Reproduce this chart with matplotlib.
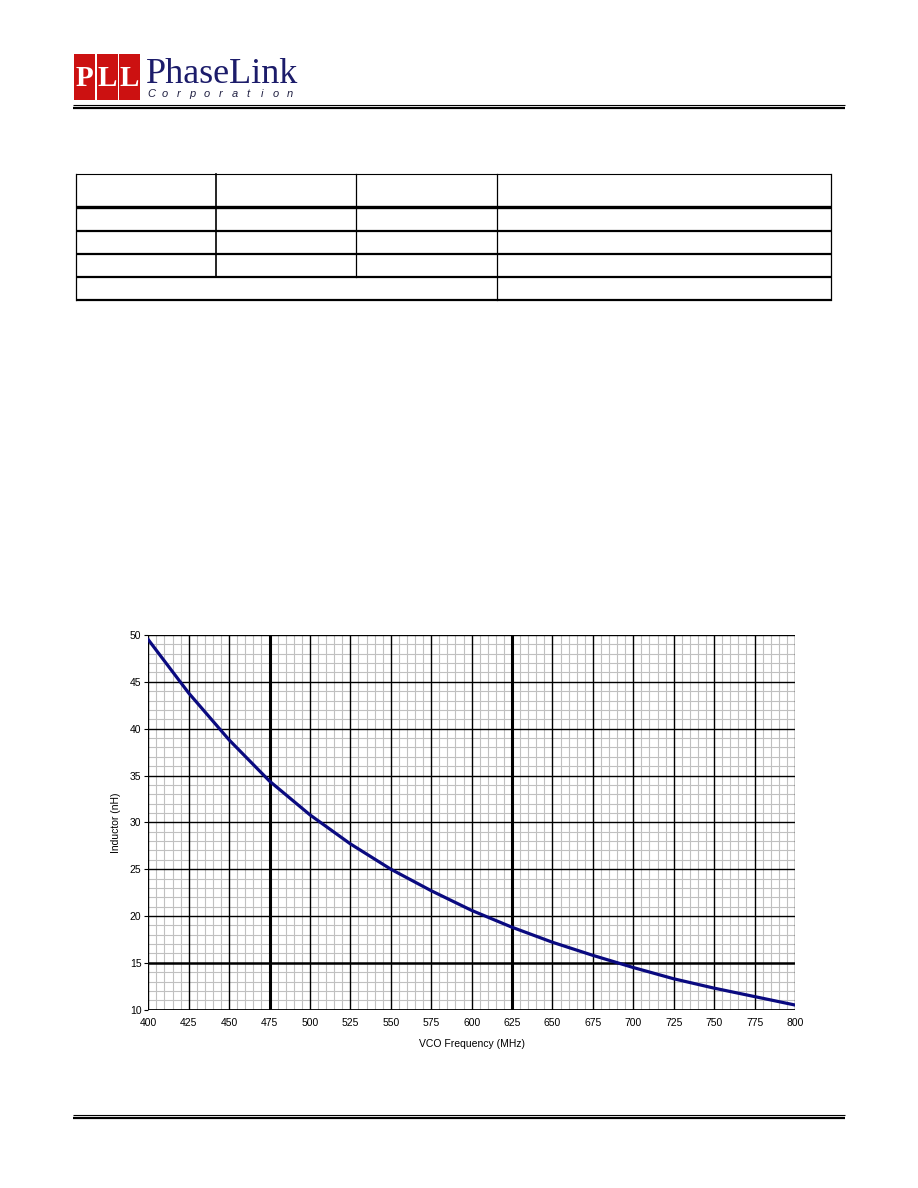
import matplotlib
matplotlib.use('Agg')
import matplotlib.pyplot as plt
from matplotlib.patches import Rectangle

# VCO frequency (MHz) vs. inductor value (nH)
freq_mhz = [400, 425, 450, 475, 500, 525, 550, 575, 600,
            625, 650, 675, 700, 725, 750, 775, 800]
inductor_nh = [49.5, 43.8, 38.8, 34.4, 30.8, 27.7, 25.0, 22.7, 20.6,
               18.8, 17.2, 15.8, 14.5, 13.3, 12.3, 11.4, 10.5]
x_ticks = list(range(400, 801, 25))
y_ticks = list(range(10, 51, 5))

W, H = 918, 1188
fig = plt.figure(figsize=(W / 100, H / 100), dpi=100)

# page overlay in pixel coordinates
page = fig.add_axes([0, 0, 1, 1])
page.set_xlim(0, W)
page.set_ylim(H, 0)
page.axis('off')

# logo
for x0, letter in zip([74, 97, 119], ['P', 'L', 'L']):
    page.add_patch(Rectangle((x0, 54), 21, 46, color='#cc1111', lw=0))
    page.text(x0 + 10.5, 78, letter, color='white', fontsize=21, fontweight='bold',
              family='Liberation Serif', ha='center', va='center')
page.text(146, 83, 'PhaseLink', color='#1c1c6a', fontsize=26, family='Liberation Serif',
          ha='left', va='baseline')
for i, ch in enumerate('Corporation'):
    page.text(151 + i * 13.9, 97, ch, color='#222244', fontsize=8, style='italic',
              family='Liberation Sans', ha='center', va='baseline')

# double rules at header and footer
for y in (105.3, 1115.3):
    page.plot([73, 845], [y, y], color='black', lw=0.8, solid_capstyle='butt')
    page.plot([73, 845], [y + 2.2, y + 2.2], color='black', lw=1.6, solid_capstyle='butt')

# empty table (last row: first three cells merged)
cols = [76, 216, 356, 497, 831]
rows = [174, 207, 231, 254, 277, 300]
row_lw = [0.8, 2.4, 1.6, 1.6, 1.6, 1.6]
for y, lw in zip(rows, row_lw):
    page.plot([cols[0], cols[-1]], [y, y], color='black', lw=lw, solid_capstyle='butt')
for x in (cols[0], cols[3], cols[4]):
    page.plot([x, x], [rows[0], rows[-1]], color='black', lw=0.9)
for x in cols[1:3]:
    page.plot([x, x], [rows[0], rows[-2]], color='black', lw=1.2 if x == 216 else 0.9)

# chart
left, right, top, bottom = 148.3, 795, 635, 1009.7
ax = fig.add_axes([left / W, (H - bottom) / H, (right - left) / W, (bottom - top) / H])
ax.set_xlim(400, 800)
ax.set_ylim(10, 50)

for x in range(400, 801, 5):
    if x % 25:
        ax.axvline(x, color='#c0c0c0', lw=0.8, zorder=1)
for y in range(10, 51):
    if y % 5:
        ax.axhline(y, color='#c0c0c0', lw=0.8, zorder=1)
for x in x_ticks:
    ax.axvline(x, color='black', lw=2.2 if x in (475, 625) else 1.0, zorder=2)
for y in y_ticks:
    ax.axhline(y, color='black', lw=1.8 if y == 15 else 1.0, zorder=2)

ax.plot(freq_mhz, inductor_nh, color='#0a0a80', lw=2.3, zorder=3)

for s in ax.spines.values():
    s.set_visible(False)
ax.axhline(10, color='black', lw=2.0, zorder=2)

ax.set_xticks(x_ticks)
ax.set_yticks(y_ticks)
ax.tick_params(axis='x', length=0, pad=6, labelsize=7.5)
ax.tick_params(axis='y', length=3, width=0.8, direction='out', pad=2, labelsize=7.5)
for lab in ax.get_xticklabels() + ax.get_yticklabels():
    lab.set_family('Liberation Sans')
ax.set_xlabel('VCO Frequency (MHz)', fontsize=7.5, family='Liberation Sans', labelpad=8)
ax.set_ylabel('Inductor (nH)', fontsize=7.5, family='Liberation Sans', labelpad=6)

fig.savefig('out.png', dpi=100)
plt.close(fig)
